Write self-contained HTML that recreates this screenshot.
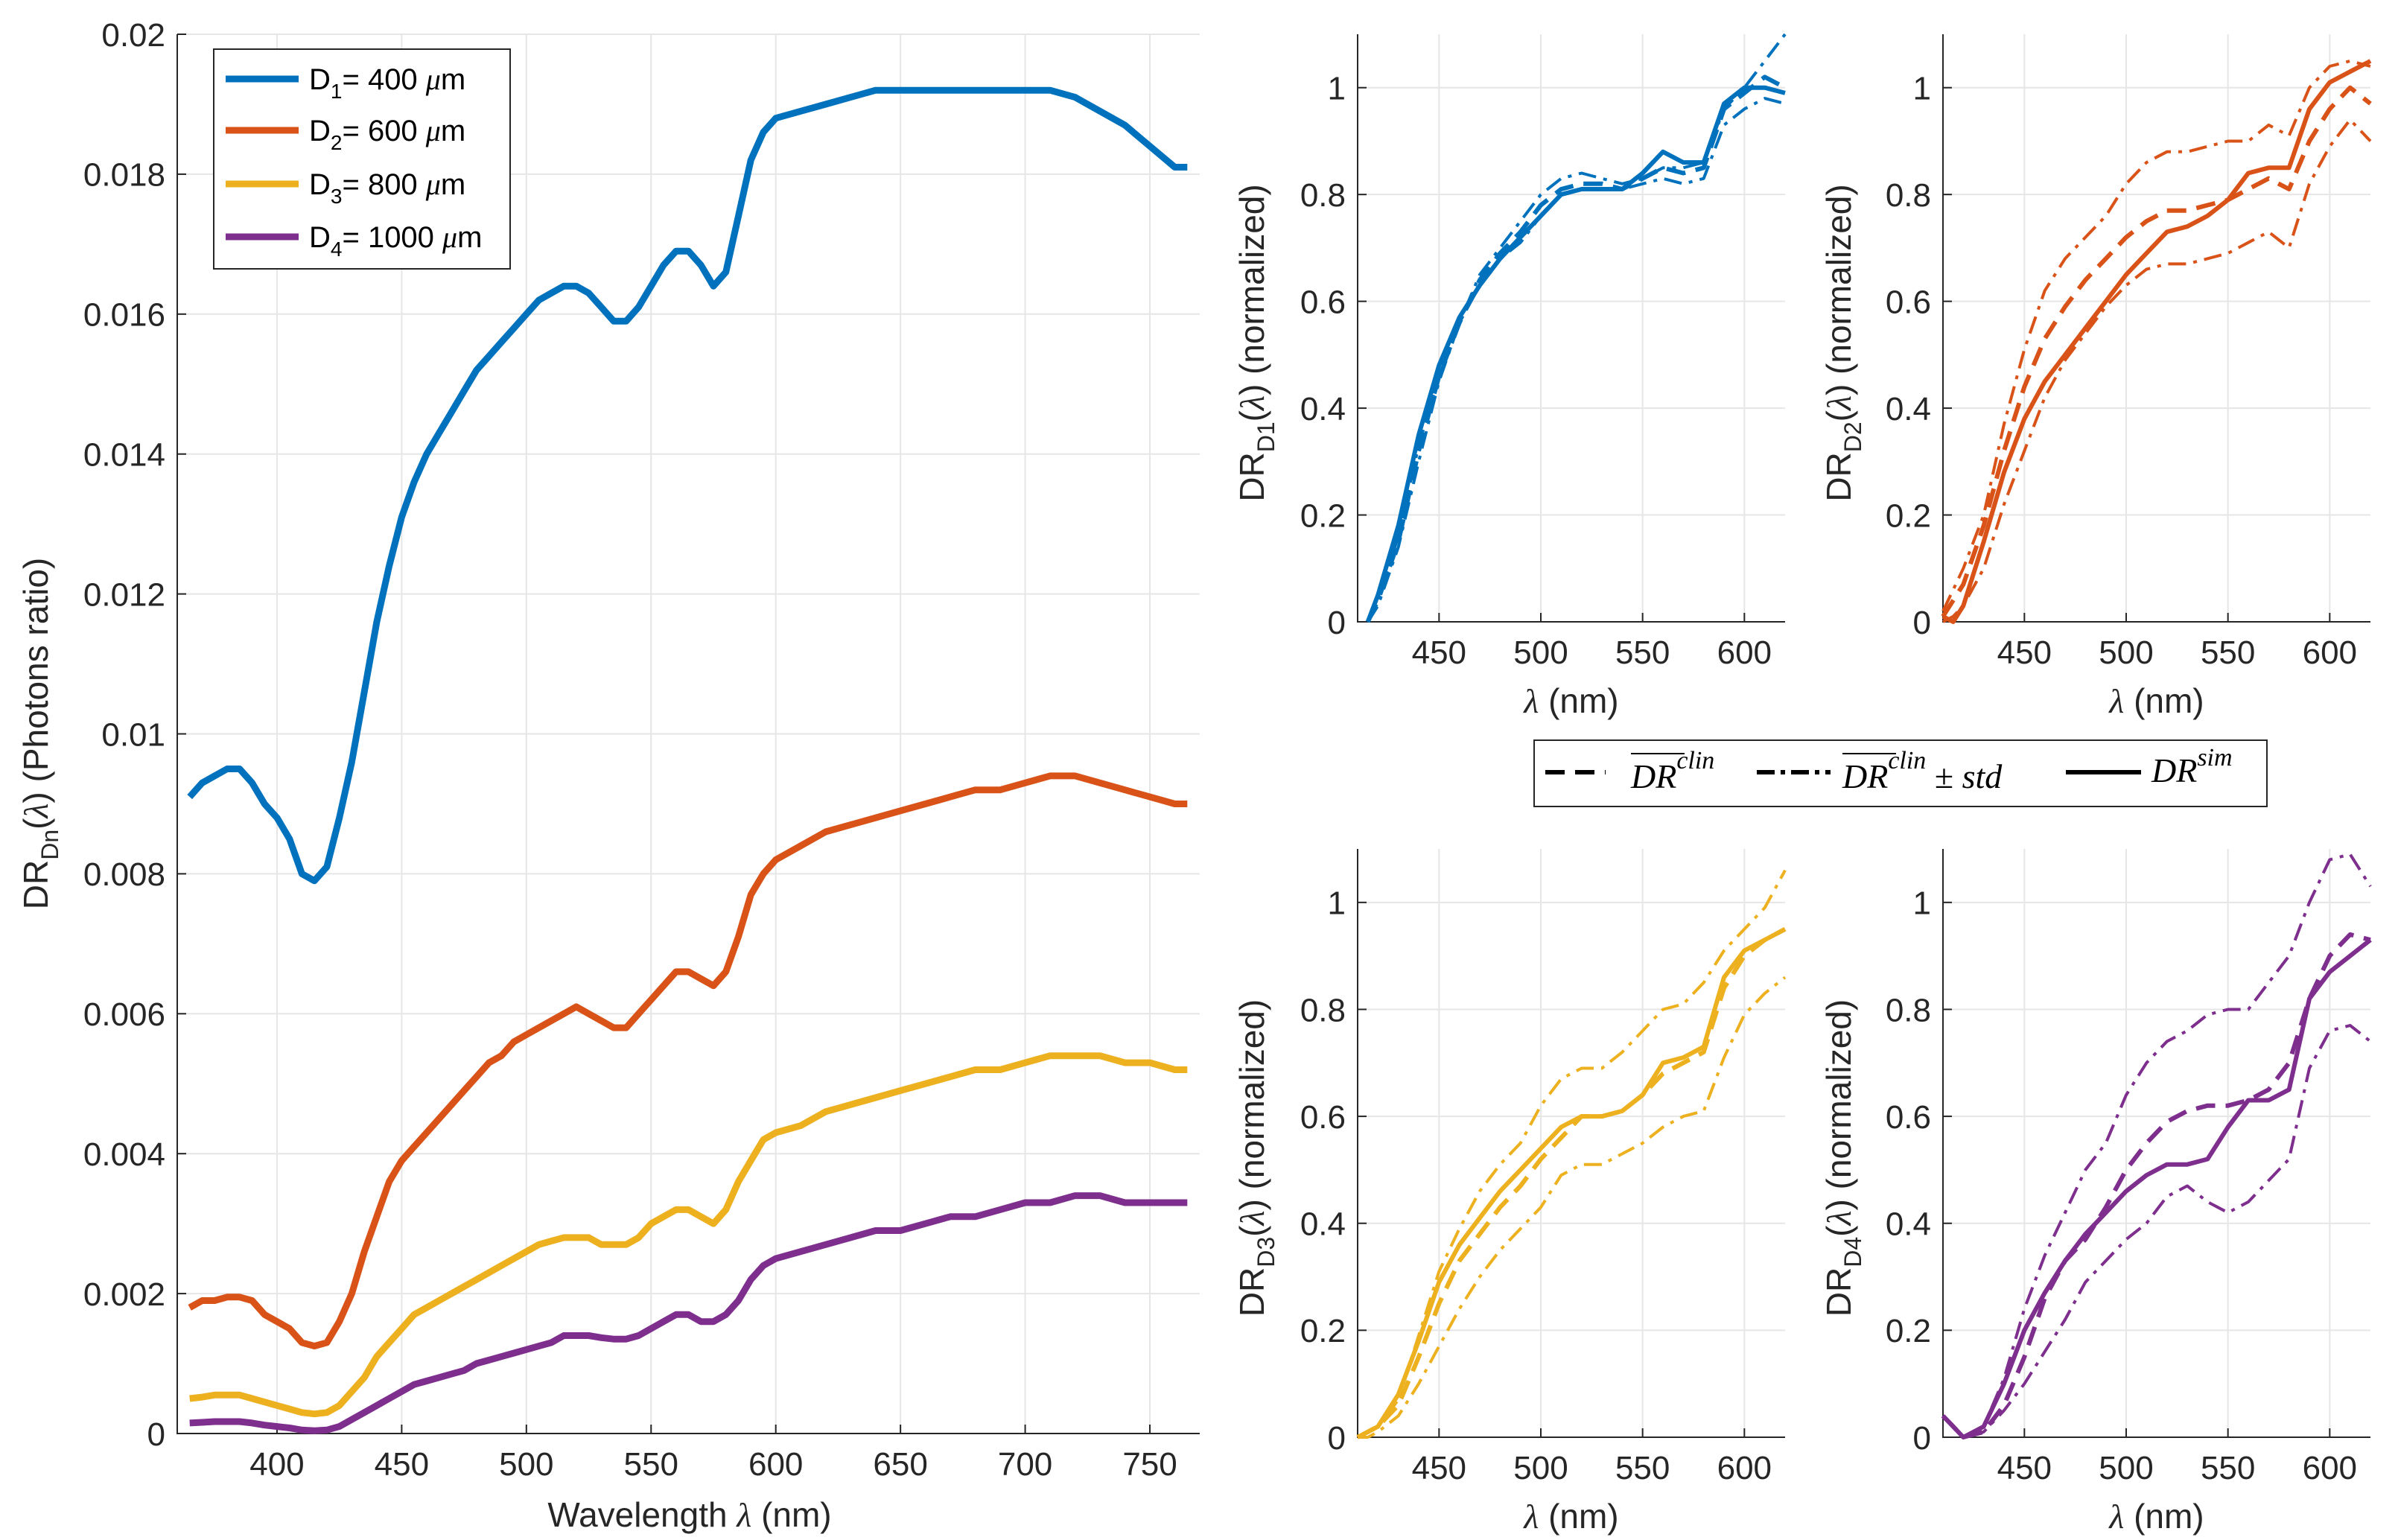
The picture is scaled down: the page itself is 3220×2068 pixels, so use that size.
<!DOCTYPE html>
<html><head><meta charset="utf-8">
<style>
html,body{margin:0;padding:0;background:#fff;}
svg{display:block;font-family:"Liberation Sans",sans-serif;}
</style></head>
<body>
<svg id="fig" width="3220" height="2068" viewBox="0 0 3220 2068" xmlns="http://www.w3.org/2000/svg"></svg>
<script>
// ---------- main chart data ----------
const mainWl = [365,370,375,380,385,390,395,400,405,410,415,420,425,430,435,440,445,450,455,460,465,470,475,480,485,490,495,500,505,510,515,520,525,530,535,540,545,550,555,560,565,570,575,580,585,590,595,600,610,620,630,640,650,660,670,680,690,700,710,720,730,740,750,760,765];
const d1Values = [0.0091,0.0093,0.0094,0.0095,0.0095,0.0093,0.0090,0.0088,0.0085,0.0080,0.0079,0.0081,0.0088,0.0096,0.0106,0.0116,0.0124,0.0131,0.0136,0.0140,0.0143,0.0146,0.0149,0.0152,0.0154,0.0156,0.0158,0.0160,0.0162,0.0163,0.0164,0.0164,0.0163,0.0161,0.0159,0.0159,0.0161,0.0164,0.0167,0.0169,0.0169,0.0167,0.0164,0.0166,0.0174,0.0182,0.0186,0.0188,0.0189,0.0190,0.0191,0.0192,0.0192,0.0192,0.0192,0.0192,0.0192,0.0192,0.0192,0.0191,0.0189,0.0187,0.0184,0.0181,0.0181];
const d2Values = [0.0018,0.0019,0.0019,0.00195,0.00195,0.0019,0.0017,0.0016,0.0015,0.0013,0.00125,0.0013,0.0016,0.0020,0.0026,0.0031,0.0036,0.0039,0.0041,0.0043,0.0045,0.0047,0.0049,0.0051,0.0053,0.0054,0.0056,0.0057,0.0058,0.0059,0.0060,0.0061,0.0060,0.0059,0.0058,0.0058,0.0060,0.0062,0.0064,0.0066,0.0066,0.0065,0.0064,0.0066,0.0071,0.0077,0.0080,0.0082,0.0084,0.0086,0.0087,0.0088,0.0089,0.0090,0.0091,0.0092,0.0092,0.0093,0.0094,0.0094,0.0093,0.0092,0.0091,0.0090,0.0090];
const d3Values = [0.0005,0.00052,0.00055,0.00055,0.00055,0.0005,0.00045,0.0004,0.00035,0.0003,0.00028,0.0003,0.0004,0.0006,0.0008,0.0011,0.0013,0.0015,0.0017,0.0018,0.0019,0.0020,0.0021,0.0022,0.0023,0.0024,0.0025,0.0026,0.0027,0.00275,0.0028,0.0028,0.0028,0.0027,0.0027,0.0027,0.0028,0.0030,0.0031,0.0032,0.0032,0.0031,0.0030,0.0032,0.0036,0.0039,0.0042,0.0043,0.0044,0.0046,0.0047,0.0048,0.0049,0.0050,0.0051,0.0052,0.0052,0.0053,0.0054,0.0054,0.0054,0.0053,0.0053,0.0052,0.0052];
const d4Values = [0.00015,0.00016,0.00017,0.00017,0.00017,0.00015,0.00012,0.0001,0.00008,0.00005,0.00004,0.00005,0.0001,0.0002,0.0003,0.0004,0.0005,0.0006,0.0007,0.00075,0.0008,0.00085,0.0009,0.001,0.00105,0.0011,0.00115,0.0012,0.00125,0.0013,0.0014,0.0014,0.0014,0.00137,0.00135,0.00135,0.0014,0.0015,0.0016,0.0017,0.0017,0.0016,0.0016,0.0017,0.0019,0.0022,0.0024,0.0025,0.0026,0.0027,0.0028,0.0029,0.0029,0.0030,0.0031,0.0031,0.0032,0.0033,0.0033,0.0034,0.0034,0.0033,0.0033,0.0033,0.0033];
const mainXTicks = [400,450,500,550,600,650,700,750];
const mainYTicks = [0,0.002,0.004,0.006,0.008,0.01,0.012,0.014,0.016,0.018,0.02];
const mainYTickLabels = ["0","0.002","0.004","0.006","0.008","0.01","0.012","0.014","0.016","0.018","0.02"];
const legendLabels = [["1","400"],["2","600"],["3","800"],["4","1000"]];

// ---------- subplot data ----------
const subWl = [410,415,420,430,440,450,460,470,480,490,500,510,520,530,540,550,560,570,580,590,600,610,620];
const p1Sim   = [null,0,0.05,0.18,0.35,0.48,0.57,0.63,0.68,0.72,0.76,0.80,0.81,0.81,0.81,0.84,0.88,0.86,0.86,0.97,1.0,1.0,0.99];
const p1Mean  = [null,0,0.04,0.15,0.32,0.46,0.56,0.64,0.69,0.73,0.78,0.81,0.82,0.82,0.81,0.83,0.85,0.84,0.85,0.96,0.99,1.02,1.0];
const p1Upper = [null,0,0.03,0.14,0.30,0.45,0.56,0.65,0.70,0.75,0.80,0.83,0.84,0.83,0.82,0.83,0.85,0.85,0.86,0.96,1.0,1.05,1.10];
const p1Lower = [null,0,0.04,0.16,0.33,0.46,0.56,0.63,0.68,0.71,0.76,0.80,0.81,0.81,0.81,0.82,0.83,0.82,0.83,0.93,0.96,0.98,0.97];
const p2Sim   = [0.01,0.0,0.03,0.15,0.28,0.38,0.45,0.50,0.55,0.60,0.65,0.69,0.73,0.74,0.76,0.79,0.84,0.85,0.85,0.96,1.01,1.03,1.05];
const p2Mean  = [0.01,0.04,0.07,0.18,0.32,0.44,0.53,0.59,0.64,0.68,0.72,0.75,0.77,0.77,0.78,0.79,0.81,0.83,0.81,0.90,0.96,1.0,0.97];
const p2Upper = [0.02,0.06,0.10,0.20,0.37,0.51,0.62,0.68,0.72,0.76,0.82,0.86,0.88,0.88,0.89,0.90,0.90,0.93,0.91,1.0,1.04,1.05,1.04];
const p2Lower = [0.0,0.01,0.03,0.10,0.22,0.32,0.42,0.49,0.54,0.59,0.63,0.66,0.67,0.67,0.68,0.69,0.71,0.73,0.70,0.82,0.89,0.94,0.90];
const p3Sim   = [0,0.01,0.02,0.08,0.18,0.29,0.36,0.41,0.46,0.50,0.54,0.58,0.60,0.60,0.61,0.64,0.70,0.71,0.73,0.86,0.91,0.93,0.95];
const p3Mean  = [0,0.01,0.02,0.06,0.15,0.25,0.33,0.38,0.43,0.47,0.52,0.56,0.60,0.60,0.61,0.64,0.68,0.70,0.72,0.84,0.90,0.93,0.95];
const p3Upper = [0,0.01,0.02,0.07,0.19,0.31,0.39,0.46,0.51,0.55,0.62,0.67,0.69,0.69,0.72,0.76,0.80,0.81,0.85,0.91,0.95,0.99,1.06];
const p3Lower = [0,0.0,0.01,0.04,0.10,0.17,0.24,0.30,0.35,0.39,0.43,0.49,0.51,0.51,0.53,0.55,0.58,0.60,0.61,0.71,0.79,0.83,0.86];
const p4Sim   = [0.04,0.02,0.0,0.02,0.10,0.20,0.27,0.33,0.38,0.42,0.46,0.49,0.51,0.51,0.52,0.58,0.63,0.63,0.65,0.82,0.87,0.90,0.93];
const p4Mean  = [0.04,0.02,0.0,0.01,0.06,0.15,0.26,0.33,0.37,0.43,0.50,0.55,0.59,0.61,0.62,0.62,0.63,0.65,0.70,0.82,0.90,0.94,0.93];
const p4Upper = [0.04,0.02,0.0,0.02,0.11,0.24,0.34,0.42,0.50,0.55,0.64,0.70,0.74,0.76,0.79,0.80,0.80,0.85,0.90,1.0,1.08,1.09,1.03];
const p4Lower = [0.04,0.02,0.0,0.01,0.05,0.10,0.16,0.22,0.29,0.33,0.37,0.40,0.45,0.47,0.44,0.42,0.44,0.48,0.52,0.69,0.76,0.77,0.74];
const subXTicks = [450,500,550,600];
const subYTicks = [0,0.2,0.4,0.6,0.8,1];
const subYTickLabels = ["0","0.2","0.4","0.6","0.8","1"];

const COLORS = ["#0072BD","#D95319","#EDB120","#7E2F8E"];
const NS = "http://www.w3.org/2000/svg";
const svg = document.getElementById("fig");
function mk(tag, attrs, parent){
  const e = document.createElementNS(NS, tag);
  for (const k in attrs) e.setAttribute(k, attrs[k]);
  (parent||svg).appendChild(e);
  return e;
}
function scale(d0,d1,r0,r1){ return v => r0 + (v-d0)/(d1-d0)*(r1-r0); }
function pathFrom(xs, ys, sx, sy){
  let d = "", pen = false;
  for (let i=0;i<xs.length;i++){
    const v = ys[i];
    if (v===null || v===undefined){ pen=false; continue; }
    d += (pen?"L":"M") + sx(xs[i]).toFixed(1) + "," + sy(v).toFixed(1);
    pen = true;
  }
  return d;
}
function drawAxes(g, box, sx, sy, xTicks, yTicks, yLabels, fs){
  // grid
  xTicks.forEach(t=>{
    const l = mk("line",{x1:sx(t),x2:sx(t),y1:box.t,y2:box.b,stroke:"#e6e6e6","stroke-width":2},g);
    
    
  });
  yTicks.forEach(t=>{
    const l = mk("line",{x1:box.l,x2:box.r,y1:sy(t),y2:sy(t),stroke:"#e6e6e6","stroke-width":2},g);
    
    
  });
  const ax = mk("path",{d:`M${box.l},${box.t}V${box.b}H${box.r}`,fill:"none",stroke:"#262626","stroke-width":2},g);
  
  
  xTicks.forEach(t=>{
    mk("line",{x1:sx(t),x2:sx(t),y1:box.b,y2:box.b-12,stroke:"#262626","stroke-width":2},g);
    const tx = mk("text",{x:sx(t),y:box.b+56,"text-anchor":"middle","font-size":fs,fill:"#262626"},g);
    tx.textContent = t;
    
    
  });
  yTicks.forEach((t,i)=>{
    mk("line",{x1:box.l,x2:box.l+12,y1:sy(t),y2:sy(t),stroke:"#262626","stroke-width":2},g);
    const tx = mk("text",{x:box.l-16,y:sy(t)+fs*0.36,"text-anchor":"end","font-size":fs,fill:"#262626"},g);
    tx.textContent = yLabels[i];
    
    
  });
}

// ---------- main chart ----------
(function(){
  const box = {l:238,r:1611,t:46,b:1925};
  const sx = scale(360,770,box.l,box.r), sy = scale(0,0.02,box.b,box.t);
  const g = mk("g",{});
  
  
  drawAxes(g, box, sx, sy, mainXTicks, mainYTicks, mainYTickLabels, 44);
  [d1Values,d2Values,d3Values,d4Values].forEach((vals,i)=>{
    const p = mk("path",{d:pathFrom(mainWl, vals, sx, sy),fill:"none",stroke:COLORS[i],"stroke-width":9,"stroke-linejoin":"round"},g);
    
    
  });
  const xl = mk("text",{x:926,y:2050,"text-anchor":"middle","font-size":46,fill:"#262626"},g);
  xl.innerHTML = 'Wavelength <tspan font-family="Liberation Serif" font-style="italic">λ</tspan> (nm)';
  
  
  const yl = mk("text",{x:0,y:0,"text-anchor":"middle","font-size":46,fill:"#262626",transform:"translate(64,985) rotate(-90)"},g);
  yl.innerHTML = 'DR<tspan font-size="32" dy="14">Dn</tspan><tspan dy="-14">(</tspan><tspan font-family="Liberation Serif" font-style="italic">λ</tspan>) (Photons ratio)';
  
  
  // legend
  const lg = mk("g",{},g);
  
  
  mk("rect",{x:287,y:66,width:398,height:295,fill:"#fff",stroke:"#262626","stroke-width":2},lg);
  const ys = [106,175,247,318];
  legendLabels.forEach((lab,i)=>{
    mk("line",{x1:303,x2:401,y1:ys[i],y2:ys[i],stroke:COLORS[i],"stroke-width":9},lg);
    const t = mk("text",{x:415,y:ys[i]+14,"font-size":40,fill:"#000"},lg);
    t.innerHTML = 'D<tspan font-size="28" dy="12">'+lab[0]+'</tspan><tspan dy="-12">= '+lab[1]+' </tspan><tspan font-family="Liberation Serif" font-style="italic">μ</tspan>m';
    
    
  });
})();

// ---------- subplots ----------
const panels = [
  {box:{l:1823,r:2397,t:46,b:835}, data:[p1Sim,p1Mean,p1Upper,p1Lower], sub:"D1", ylx:1681},
  {box:{l:2609,r:3183,t:46,b:835}, data:[p2Sim,p2Mean,p2Upper,p2Lower], sub:"D2", ylx:2469},
  {box:{l:1823,r:2397,t:1140,b:1930}, data:[p3Sim,p3Mean,p3Upper,p3Lower], sub:"D3", ylx:1681},
  {box:{l:2609,r:3183,t:1140,b:1930}, data:[p4Sim,p4Mean,p4Upper,p4Lower], sub:"D4", ylx:2469}
];
panels.forEach((P,i)=>{
  const box = P.box;
  const sx = scale(410,620,box.l,box.r), sy = scale(0,1.1,box.b,box.t);
  const g = mk("g",{});
  
  
  drawAxes(g, box, sx, sy, subXTicks, subYTicks, subYTickLabels, 44);
  const styles = [{da:"none",name:"sim"},{da:"26,14",name:"mean"},{da:"24,10,5,10",name:"mean-plus-std"},{da:"24,10,5,10",name:"mean-minus-std"}];
  P.data.forEach((vals,k)=>{
    const a = {d:pathFrom(subWl, vals, sx, sy),fill:"none",stroke:COLORS[i],"stroke-width":k===0?6:(k===1?6:4),"stroke-linejoin":"round"};
    if (styles[k].da!=="none") a["stroke-dasharray"]=styles[k].da;
    const p = mk("path",a,g);
    
    
  });
  const xl = mk("text",{x:(box.l+box.r)/2,y:box.b+122,"text-anchor":"middle","font-size":46,fill:"#262626"},g);
  xl.innerHTML = '<tspan font-family="Liberation Serif" font-style="italic">λ</tspan> (nm)';
  
  
  const yl = mk("text",{x:0,y:0,"text-anchor":"middle","font-size":46,fill:"#262626",transform:`translate(${P.ylx+16},${(box.t+box.b)/2+20}) rotate(-90)`},g);
  yl.innerHTML = 'DR<tspan font-size="32" dy="14">'+P.sub+'</tspan><tspan dy="-14">(</tspan><tspan font-family="Liberation Serif" font-style="italic">λ</tspan>) (normalized)';
  
  
});

// shared legend
(function(){
  const g = mk("g",{});
  
  
  mk("rect",{x:2060,y:994,width:984,height:89,fill:"#fff",stroke:"#262626","stroke-width":2},g);
  const cy = 1037;
  mk("line",{x1:2075,x2:2156,y1:cy,y2:cy,stroke:"#000","stroke-width":6,"stroke-dasharray":"26,14"},g);
  mk("line",{x1:2359,x2:2458,y1:cy,y2:cy,stroke:"#000","stroke-width":6,"stroke-dasharray":"24,8,6,8"},g);
  mk("line",{x1:2774,x2:2875,y1:cy,y2:cy,stroke:"#000","stroke-width":6},g);
  const tf = {"font-family":"Liberation Serif","font-style":"italic",fill:"#000"};
  const t1 = mk("text",Object.assign({x:2190,y:1058,"font-size":46},tf),g);
  t1.innerHTML = 'DR<tspan font-size="34" dy="-26">clin</tspan>';
  
  
  mk("line",{x1:2190,x2:2262,y1:1012,y2:1012,stroke:"#000","stroke-width":2},g);
  const t2 = mk("text",Object.assign({x:2474,y:1058,"font-size":46},tf),g);
  t2.innerHTML = 'DR<tspan font-size="34" dy="-26">clin</tspan><tspan dy="26" font-style="normal"> ± </tspan>std';
  
  
  mk("line",{x1:2474,x2:2546,y1:1012,y2:1012,stroke:"#000","stroke-width":2},g);
  const t3 = mk("text",Object.assign({x:2889,y:1050,"font-size":46},tf),g);
  t3.innerHTML = 'DR<tspan font-size="34" dy="-22">sim</tspan>';
  
  
})();
</script>
</body></html>
